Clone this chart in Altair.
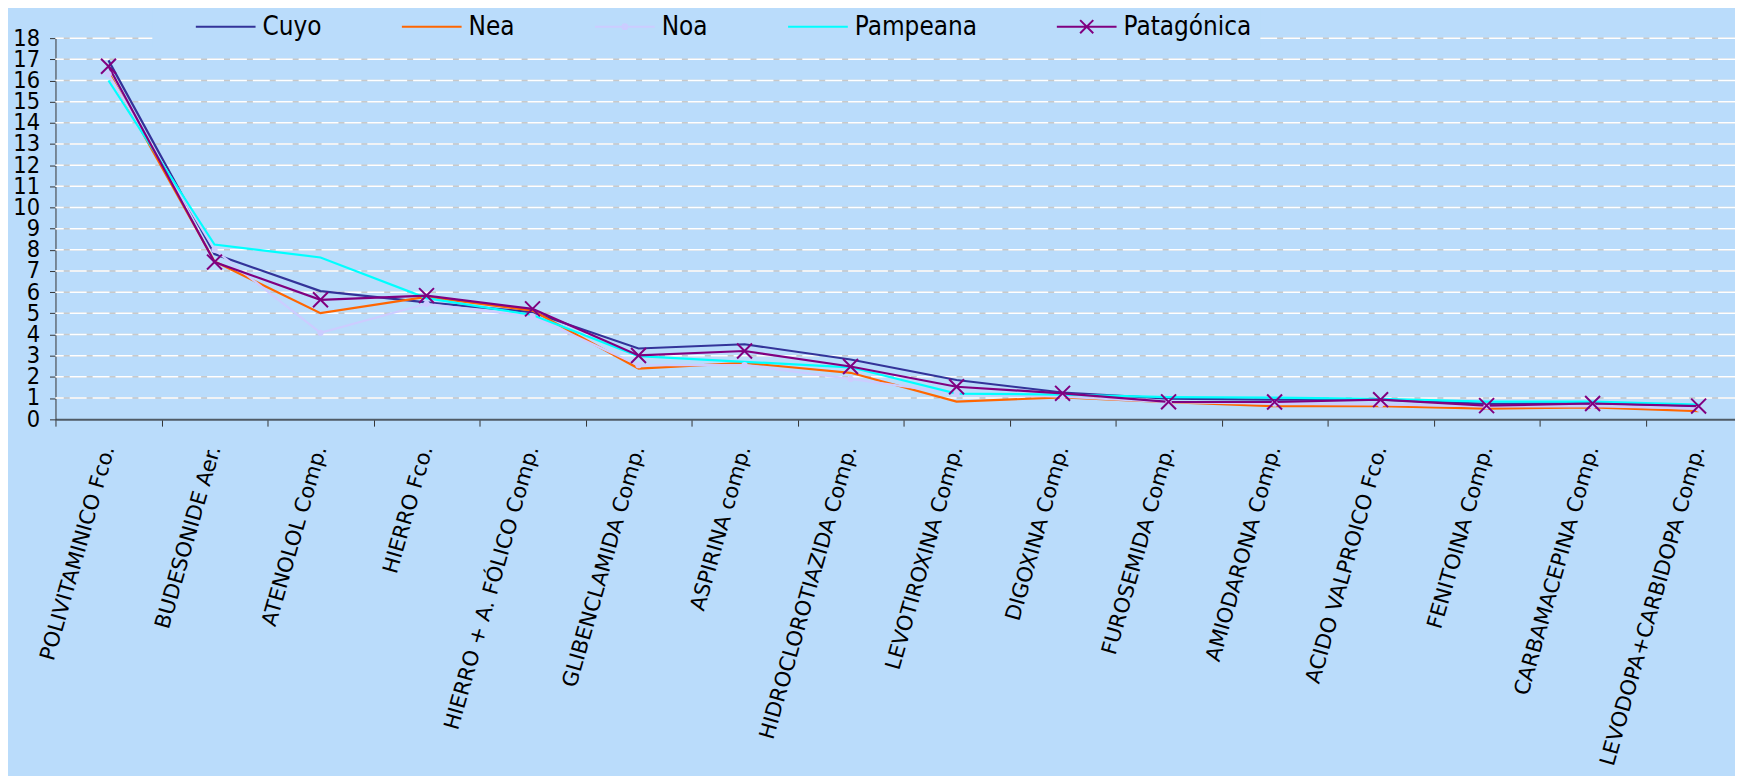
import altair as alt
import pandas as pd

categories = [
    "POLIVITAMINICO Fco.", "BUDESONIDE Aer.", "ATENOLOL Comp.", "HIERRO Fco.",
    "HIERRO + A. FÓLICO Comp.", "GLIBENCLAMIDA Comp.", "ASPIRINA comp.",
    "HIDROCLOROTIAZIDA Comp.", "LEVOTIROXINA Comp.", "DIGOXINA Comp.",
    "FUROSEMIDA Comp.", "AMIODARONA Comp.", "ACIDO VALPROICO Fco.",
    "FENITOINA Comp.", "CARBAMACEPINA Comp.", "LEVODOPA+CARBIDOPA Comp.",
]
regions = ["Cuyo", "Nea", "Noa", "Pampeana", "Patagónica"]

cuyo = [16.95, 7.80, 6.05, 5.52, 5.05, 3.34, 3.54, 2.82, 1.85, 1.26, 0.97, 0.92, 0.92, 0.72, 0.76, 0.64]
nea = [16.40, 7.45, 5.01, 5.78, 5.13, 2.39, 2.66, 2.19, 0.83, 1.03, 0.80, 0.61, 0.61, 0.50, 0.56, 0.38]
noa = [16.30, 8.00, 4.08, 5.45, 4.85, 2.55, 2.55, 1.90, 1.20, 1.06, 0.80, 0.73, 0.70, 0.60, 0.62, 0.50]
pampeana = [16.00, 8.25, 7.64, 5.72, 4.92, 2.98, 2.71, 2.45, 1.21, 1.16, 1.04, 1.02, 0.96, 0.83, 0.83, 0.69]
patagonica = [16.67, 7.42, 5.64, 5.84, 5.21, 3.01, 3.22, 2.49, 1.53, 1.22, 0.82, 0.81, 0.92, 0.64, 0.74, 0.62]

series = [cuyo, nea, noa, pampeana, patagonica]
colors = ["#333399", "#FF6600", "#CCCCFF", "#00FFFF", "#800080"]
y_ticks = list(range(0, 19))
grid_values = list(range(1, 19))

# legend symbols: line with optional marker (unit box [-1, 1])
legend_paths = [
    "M-1,0L1,0",
    "M-1,0L1,0",
    "M-1,0L1,0M-0.08,0A0.08,0.08,0,1,0,0.08,0A0.08,0.08,0,1,0,-0.08,0",
    "M-1,0L1,0",
    "M-1,0L1,0M-0.22,-0.22L0.22,0.22M-0.22,0.22L0.22,-0.22",
]

rows = []
for r, vals in zip(regions, series):
    for c, v in zip(categories, vals):
        rows.append({"cat": c, "region": r, "value": v})
df = pd.DataFrame(rows)
grid_df = pd.DataFrame({"v": grid_values})

BG = "#BADCFB"
COND = "DejaVu Sans Condensed"

yscale = alt.Scale(domain=[0, 18], nice=False, zero=True)
yaxis = alt.Axis(
    values=y_ticks, title=None, grid=False, labelFont=COND, labelFontSize=23.5,
    labelColor="black", labelPadding=10, tickSize=6, tickColor="#333333",
    domainColor="#333333", domainWidth=1, labelOverlap=False, labelFlush=False,
)
xscale = alt.Scale(type="band", paddingInner=0, paddingOuter=0, range=[0, 1704])
xaxis = alt.Axis(
    title=None, labelAngle=286, labelAlign="right", labelBaseline="middle",
    labelFont="DejaVu Sans", labelFontSize=21.3, labelColor="black", labelPadding=20,
    labelLimit=600, labelOverlap=False, tickBand="extent", tickSize=7,
    tickColor="#333333", domainColor="#4f5b66", domainWidth=2, grid=False,
)

X = alt.X("cat:N", sort=categories, scale=xscale, axis=xaxis)
Y = alt.Y("value:Q", scale=yscale, axis=yaxis)
YG = alt.Y("v:Q", scale=yscale, axis=yaxis)

grid_gray = alt.Chart(grid_df).mark_rule(color="#c9c9c9", strokeWidth=1.5).encode(y=YG)
grid_white = alt.Chart(grid_df).mark_rule(
    color="white", strokeWidth=1.5, strokeDash=[17, 6]
).encode(y=YG)

line_layers = []
for r, col in zip(regions, colors):
    line_layers.append(
        alt.Chart(df).transform_filter(alt.datum.region == r)
        .mark_line(color=col, strokeWidth=2.2).encode(x=X, y=Y)
    )

noa_pts = alt.Chart(df).transform_filter(alt.datum.region == "Noa").mark_point(
    shape="circle", filled=True, size=40, color="#CCCCFF", opacity=1
).encode(x=X, y=Y)
pat_pts = alt.Chart(df).transform_filter(alt.datum.region == "Patagónica").mark_point(
    shape="M-1,-1L1,1M-1,1L1,-1", filled=False, size=225, strokeWidth=2,
    color="#800080", opacity=1
).encode(x=X, y=Y)

nb = "\u00a0" * 4
leg = alt.Legend(
    title=" ", titleOrient="left", titleFontSize=1, titlePadding=34.7,
    orient="none", legendX=97.3, legendY=-32.5, direction="horizontal",
    labelFont=COND, labelFontSize=26, labelColor="black", labelOffset=6,
    labelLimit=400, columnPadding=79, symbolSize=3600, symbolStrokeWidth=2,
    symbolOpacity=1, clipHeight=26, padding=8, fillColor=BG,
    labelExpr="datum.label == 'Patagónica' ? datum.label + '" + nb + "' : datum.label",
)
legend_layer = alt.Chart(df).mark_point(opacity=0, filled=False).encode(
    x=X, y=Y,
    color=alt.Color("region:N", scale=alt.Scale(domain=regions, range=colors), legend=leg),
    shape=alt.Shape("region:N", scale=alt.Scale(domain=regions, range=legend_paths), legend=leg),
)

chart = alt.layer(
    grid_gray, grid_white, *line_layers, noa_pts, pat_pts, legend_layer
).properties(
    width=1687.3, height=382.8,
    autosize=alt.AutoSizeParams(type="none"),
    padding={"left": 47.7, "top": 28.5, "right": 0, "bottom": 356.7},
    background=BG,
    usermeta={"embedOptions": {
        "defaultStyle": "html,body{background:#BADCFB;overflow:hidden}"
    }},
).configure_view(stroke="transparent")

chart.save("out.html", embed_options={"renderer": "svg", "actions": False})
